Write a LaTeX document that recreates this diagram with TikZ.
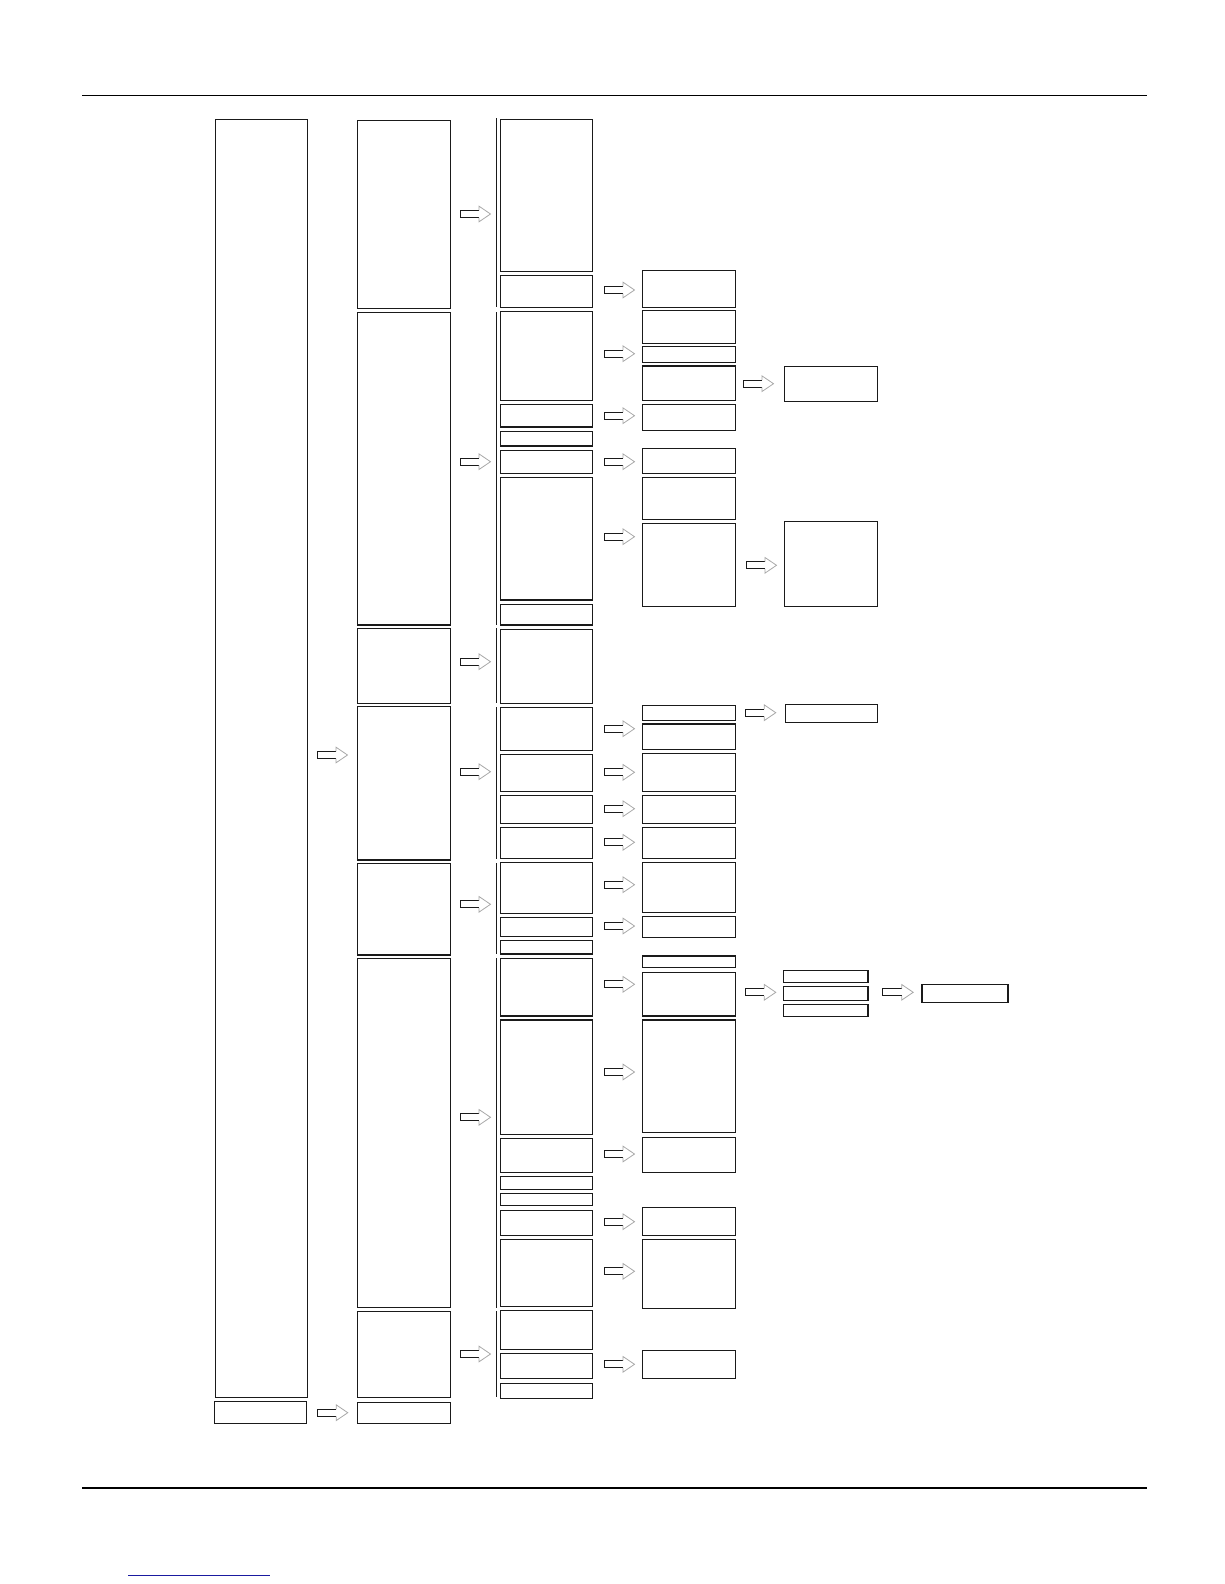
\documentclass[tikz,border=0pt]{standalone}
\definecolor{ink}{HTML}{1A1A1A}
\definecolor{headgray}{HTML}{A8A8A8}
\definecolor{linkblue}{HTML}{1A1AA0}
\tikzset{
  bx/.style={draw=ink, line width=1.2pt, rectangle, inner sep=0pt, outer sep=0pt},
  arrline/.style={draw=ink, line width=1pt},
  headline/.style={draw=headgray, line width=0.8pt, line join=miter},
  bracket/.style={draw=ink, line width=1.2pt},
  rule/.style={draw=black, line width=1.6pt},
  harrow/.pic={
    \draw[arrline] (19,-3.6) -- (0,-3.6) -- (0,3.6) -- (19,3.6);
    \draw[headline] (19,-3.6) -- (19,-7.8) -- (30.5,0) -- (19,7.8) -- (19,3.6);
  }
}
\newcommand\bx[5]{\node[bx,anchor=north west,minimum width={#4pt-#2pt},minimum height={#5pt-#3pt}] (#1) at (#2,#3) {};}
\newcommand\harr[3]{\coordinate (#1) at (#2,#3); \pic at (#1) {harrow};}
\newcommand\brk[3]{\coordinate (#1top) at (496.5,#2); \coordinate (#1bot) at (496.5,#3); \draw[bracket] (#1top) -- (#1bot);}
\begin{document}
\begin{tikzpicture}[x=1pt,y=-1pt]
\useasboundingbox (0,0) rectangle (1224,1584);
% header and footer rules
\coordinate (hl) at (82,95.5); \coordinate (hr) at (1147,95.5);
\draw[rule] (hl) -- (hr);
\coordinate (fl) at (82,1488); \coordinate (fr) at (1147,1488);
\draw[rule] (fl) -- (fr);
\coordinate (ul) at (128,1575); \coordinate (ur) at (270,1575);
\draw[draw=linkblue, line width=1pt] (ul) -- (ur);
% column A
\bx{a1}{215.3}{119.3}{307.3}{1397.3}
\bx{a2}{214.3}{1401.3}{306.3}{1423.3}
% column B
\bx{b1}{357.3}{120.3}{450.3}{308.3}
\bx{b2}{357.3}{312.3}{450.3}{625}
\bx{b3}{357.3}{628.3}{450.3}{703.3}
\bx{b4}{357.3}{706.7}{450.3}{860}
\bx{b5}{357.3}{863.3}{450.3}{955}
\bx{b6}{357.3}{958.3}{450.3}{1307.3}
\bx{b7}{357.3}{1311.3}{450.3}{1397.3}
\bx{b8}{357.3}{1402.3}{450.3}{1423.3}
% brackets of column C
\brk{ka}{118.3}{307.3}
\brk{kb}{312.3}{625}
\brk{kc}{628}{702.5}
\brk{kd}{707}{859}
\brk{ke}{863}{954}
\brk{kf}{958}{1307.7}
\brk{kg}{1311}{1397.3}
% column C
\bx{ca}{500.3}{119.3}{592.3}{271.3}
\bx{c2}{500.3}{275.3}{592.3}{307.3}
\bx{c3}{500.3}{311.3}{592.3}{400.3}
\bx{c4}{500.3}{404.3}{592.3}{427}
\bx{c5}{500.3}{431.3}{592.3}{446}
\bx{c6}{500.3}{450.3}{592.3}{473.3}
\bx{c7}{500.3}{477.3}{592.3}{600}
\bx{c8}{500.3}{604.3}{592.3}{625}
\bx{c9}{500.3}{629.3}{592.3}{703.3}
\bx{c10}{500.3}{707.3}{592.3}{750.3}
\bx{c11}{500.3}{754.3}{592.3}{791.7}
\bx{c12}{500.3}{795.3}{592.3}{823.3}
\bx{c13}{500.3}{827.3}{592.3}{858.3}
\bx{c14}{500.3}{862.3}{592.3}{913.3}
\bx{c15}{500.3}{917.3}{592.3}{936.3}
\bx{c16}{500.3}{940.7}{592.3}{954}
\bx{c17}{500.3}{958.3}{592.3}{1016}
\bx{c18}{500.3}{1020}{592.3}{1134.3}
\bx{c19}{500.3}{1138.3}{592.3}{1172.3}
\bx{c20}{500.3}{1176.3}{592.3}{1189.5}
\bx{c21}{500.3}{1193.5}{592.3}{1205.5}
\bx{c22}{500.3}{1210.3}{592.3}{1235.3}
\bx{c23}{500.3}{1239.3}{592.3}{1306.7}
\bx{c24}{500.3}{1310.3}{592.3}{1349.3}
\bx{c25}{500.3}{1353.3}{592.3}{1378.5}
\bx{c26}{500.3}{1383.3}{592.3}{1398.3}
% column D
\bx{d1}{642.3}{270.3}{735.3}{307.3}
\bx{d2}{642.3}{310.3}{735.3}{343.3}
\bx{d3}{642.3}{346.3}{735.3}{362.3}
\bx{d4}{642.3}{366}{735.3}{400.5}
\bx{d5}{642.3}{404.5}{735.3}{430.3}
\bx{d6}{642.3}{448.3}{735.3}{473.3}
\bx{d7}{642.3}{477.3}{735.3}{519.3}
\bx{d8}{642.3}{523.3}{735.3}{606.3}
\bx{d9}{642.3}{705.3}{735.3}{720.5}
\bx{d10}{642.3}{724}{735.3}{749.5}
\bx{d11}{642.3}{753.3}{735.3}{791.7}
\bx{d12}{642.3}{795.3}{735.3}{823.3}
\bx{d13}{642.3}{827.3}{735.3}{858.3}
\bx{d14}{642.3}{862.3}{735.3}{912.3}
\bx{d15}{642.3}{916.3}{735.3}{937.3}
\bx{d16}{642.3}{956}{735.3}{967.7}
\bx{d17}{642.3}{972.3}{735.3}{1016}
\bx{d18}{642.3}{1020}{735.3}{1132.3}
\bx{d19}{642.3}{1137.3}{735.3}{1172.3}
\bx{d20}{642.3}{1207.3}{735.3}{1235.3}
\bx{d21}{642.3}{1239.3}{735.3}{1308.3}
\bx{d22}{642.3}{1350.3}{735.3}{1378.3}
% column E
\bx{e1}{784.3}{366.3}{877.5}{401.3}
\bx{e2}{784.3}{521.3}{877.5}{606.3}
\bx{e3}{785.3}{704.3}{877.7}{722.3}
\bx{e4}{783.5}{970.3}{868}{982.3}
\bx{e5}{783.5}{986.3}{868}{1000.3}
\bx{e6}{783.5}{1004.3}{868}{1016.3}
% column F
\bx{f1}{922}{984.3}{1008}{1002.3}
% arrows A -> B
\harr{ab1}{317}{755}
\harr{ab2}{317.3}{1412.7}
% arrows B -> C
\harr{bc1}{460}{214}
\harr{bc2}{460}{461.7}
\harr{bc3}{460}{661.7}
\harr{bc4}{460}{771.7}
\harr{bc5}{460}{904.3}
\harr{bc6}{460}{1117.3}
\harr{bc7}{460}{1354}
% arrows C -> D
\harr{cd1}{604}{290}
\harr{cd2}{604}{353.7}
\harr{cd3}{604}{415.7}
\harr{cd4}{604}{461.7}
\harr{cd5}{604}{536.7}
\harr{cd6}{604}{728.7}
\harr{cd7}{604}{772.3}
\harr{cd8}{604}{808.7}
\harr{cd9}{604}{842.3}
\harr{cd10}{604}{884.7}
\harr{cd11}{604}{926}
\harr{cd12}{604}{984.3}
\harr{cd13}{604}{1072}
\harr{cd14}{604}{1154}
\harr{cd15}{604}{1221.7}
\harr{cd16}{604}{1271.3}
\harr{cd17}{604}{1364.3}
% arrows D -> E
\harr{de1}{743}{383.7}
\harr{de2}{746}{565.3}
\harr{de3}{745.3}{712.7}
\harr{de4}{745.3}{992.3}
% arrow E -> F
\harr{ef1}{882.7}{992.3}
\end{tikzpicture}
\end{document}
